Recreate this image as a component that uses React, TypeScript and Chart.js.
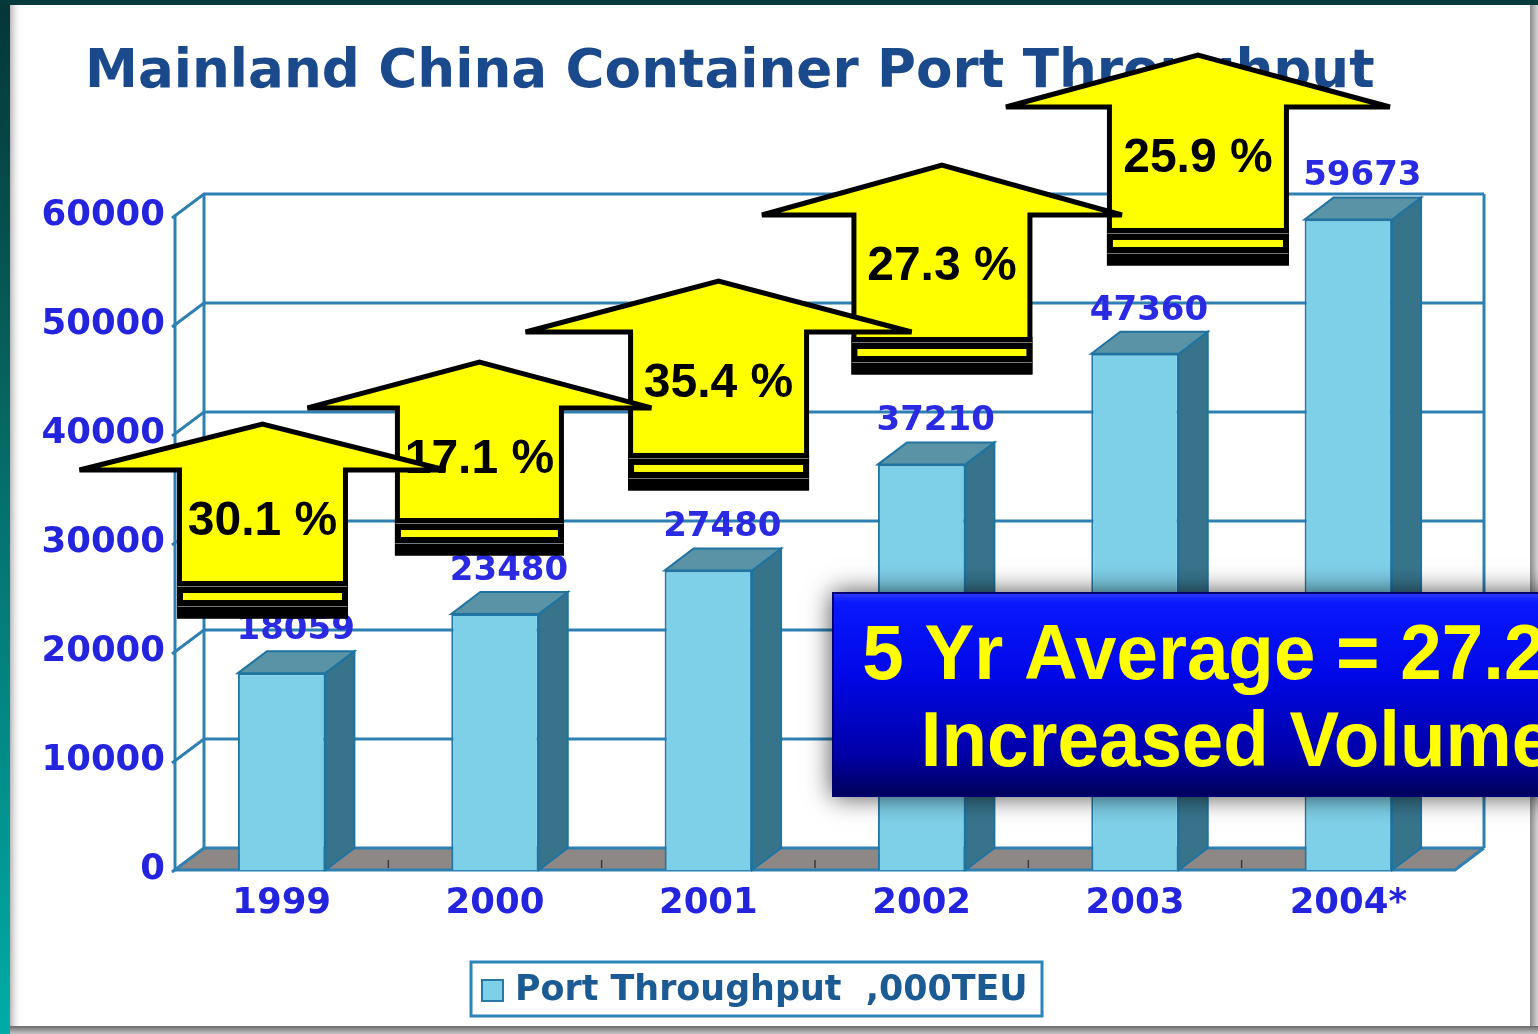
import React, { useEffect, useRef } from 'react';
import { Chart, registerables } from 'chart.js';

Chart.register(...registerables);

// ---------------- data ----------------
const categories = ['1999', '2000', '2001', '2002', '2003', '2004*'];
const throughput = [18059, 23480, 27480, 37210, 47360, 59673];
const growthLabels = ['30.1 %', '17.1 %', '35.4 %', '27.3 %', '25.9 %'];
const yAxisMin = 0;
const yAxisMax = 60000;
const yAxisStep = 10000;
const seriesLabel = 'Port Throughput  ,000TEU';
const chartTitle = 'Mainland China Container Port Throughput';
const calloutLines = ['5 Yr Average = 27.2%', 'Increased Volume'];

// ------------- annotation layout (category index / axis value units) -------------
const arrowCenterIdx = [-0.09, 0.927, 2.048, 3.095, 4.295];
const arrowTipVal = [40900, 46600, 54040, 64680, 74770];
const arrowBaseVal = [36700, 42390, 49360, 60090, 70000];
const arrowBottomVal = [23300, 29080, 35050, 45690, 55690];
const arrowHeadHalf = [183, 172, 193, 180, 192];
const arrowShaftHalf = [83, 82, 88, 88, 88.5];

// ---------------- styles ----------------
const W = 1538;
const H = 1034;
const DX = 29;
const DY = -22;
const GRID = '#2f80b2';
const AXIS_BLUE = '#2424de';
const TICK_FONT = { family: '"DejaVu Sans", Verdana, sans-serif', size: 35.5, weight: 'bold' as const };

function fitFont(ctx: CanvasRenderingContext2D, text: string, weight: string, family: string, target: number, base: number) {
  ctx.font = `${weight} ${base}px ${family}`;
  const w = ctx.measureText(text).width;
  const size = (base * target) / w;
  ctx.font = `${weight} ${size}px ${family}`;
}

const scenePlugin = {
  id: 'scene',
  beforeDraw(chart: any) {
    const ctx: CanvasRenderingContext2D = chart.ctx;
    ctx.save();
    ctx.fillStyle = '#a0a0a0';
    ctx.fillRect(0, 0, W, H);
    // left teal strip
    let g = ctx.createLinearGradient(0, 0, 0, H);
    g.addColorStop(0, '#043636');
    g.addColorStop(0.35, '#06605d');
    g.addColorStop(1, '#00aca8');
    ctx.fillStyle = g;
    ctx.fillRect(0, 0, 10, H);
    // top dark band
    ctx.fillStyle = '#043a3a';
    ctx.fillRect(0, 0, W, 5);
    // bottom shadow
    g = ctx.createLinearGradient(0, 1026, 0, H);
    g.addColorStop(0, '#6a6a6a');
    g.addColorStop(1, '#c6c6c6');
    ctx.fillStyle = g;
    ctx.fillRect(10, 1026, W - 10, H - 1026);
    // right shadow
    g = ctx.createLinearGradient(1530, 0, W, 0);
    g.addColorStop(0, '#8c8c8c');
    g.addColorStop(1, '#d6d6d6');
    ctx.fillStyle = g;
    ctx.fillRect(1530, 5, 8, 1021);
    // panel
    ctx.fillStyle = '#ffffff';
    ctx.fillRect(10, 5, 1520, 1021);
    g = ctx.createLinearGradient(10, 0, 22, 0);
    g.addColorStop(0, '#b8b8b8');
    g.addColorStop(1, 'rgba(255,255,255,0)');
    ctx.fillStyle = g;
    ctx.fillRect(10, 5, 12, 1021);

    // title
    ctx.fillStyle = '#1b4a8c';
    ctx.textAlign = 'left';
    ctx.textBaseline = 'alphabetic';
    fitFont(ctx, chartTitle, 'bold', '"DejaVu Sans", Verdana, sans-serif', 1290, 53);
    ctx.fillText(chartTitle, 85, 87);
    ctx.restore();
  },
  beforeDatasetsDraw(chart: any) {
    const ctx: CanvasRenderingContext2D = chart.ctx;
    const a = chart.chartArea;
    const ys = chart.scales.y;
    const xs = chart.scales.x;
    const L = a.left;
    const R = a.right;
    const T = ys.getPixelForValue(yAxisMax);
    const B = ys.getPixelForValue(yAxisMin);
    ctx.save();
    // floor
    ctx.beginPath();
    ctx.moveTo(L, B);
    ctx.lineTo(L + DX, B + DY);
    ctx.lineTo(R + DX, B + DY);
    ctx.lineTo(R, B);
    ctx.closePath();
    ctx.fillStyle = '#8d8785';
    ctx.fill();
    // floor tick marks
    ctx.strokeStyle = '#3a3a3a';
    ctx.lineWidth = 1.5;
    for (let i = 1; i < categories.length; i++) {
      const bx = xs.getPixelForValue(i - 0.5);
      ctx.beginPath();
      ctx.moveTo(bx, B - 10);
      ctx.lineTo(bx, B - 2);
      ctx.stroke();
    }
    // gridlines (left wall diagonal + back wall)
    ctx.strokeStyle = GRID;
    ctx.lineWidth = 3;
    for (let v = yAxisMin; v <= yAxisMax; v += yAxisStep) {
      const yp = ys.getPixelForValue(v);
      ctx.beginPath();
      ctx.moveTo(L - 3, yp + 2);
      ctx.lineTo(L + DX, yp + DY);
      ctx.lineTo(R + DX, yp + DY);
      ctx.stroke();
    }
    // wall verticals
    ctx.beginPath();
    ctx.moveTo(L, T);
    ctx.lineTo(L, B);
    ctx.moveTo(L + DX, T + DY);
    ctx.lineTo(L + DX, B + DY);
    ctx.moveTo(R + DX, T + DY);
    ctx.lineTo(R + DX, B + DY);
    ctx.stroke();
    // floor edges
    ctx.beginPath();
    ctx.moveTo(L, B);
    ctx.lineTo(R, B);
    ctx.lineTo(R + DX, B + DY);
    ctx.stroke();
    ctx.restore();
  },
  afterDatasetsDraw(chart: any) {
    const ctx: CanvasRenderingContext2D = chart.ctx;
    const meta = chart.getDatasetMeta(0);
    ctx.save();
    meta.data.forEach((el: any) => {
      const { x, y, base, width } = el.getProps(['x', 'y', 'base', 'width'], true);
      const l = x - width / 2;
      const r = x + width / 2;
      ctx.lineWidth = 2;
      ctx.strokeStyle = '#1f73a0';
      ctx.beginPath();
      ctx.moveTo(r, y);
      ctx.lineTo(r + DX, y + DY);
      ctx.lineTo(r + DX, base + DY);
      ctx.lineTo(r, base);
      ctx.closePath();
      ctx.fillStyle = '#37748c';
      ctx.fill();
      ctx.stroke();
      ctx.beginPath();
      ctx.moveTo(l, y);
      ctx.lineTo(l + DX, y + DY);
      ctx.lineTo(r + DX, y + DY);
      ctx.lineTo(r, y);
      ctx.closePath();
      ctx.fillStyle = '#5b93a6';
      ctx.fill();
      ctx.stroke();
    });
    // value labels
    ctx.fillStyle = '#2a2ae2';
    ctx.font = 'bold 34px "DejaVu Sans", Verdana, sans-serif';
    ctx.textAlign = 'center';
    ctx.textBaseline = 'middle';
    meta.data.forEach((el: any, i: number) => {
      const { x, y } = el.getProps(['x', 'y'], true);
      ctx.fillText(String(throughput[i]), x + 14, y - 43);
    });
    ctx.restore();
  },
  afterDraw(chart: any) {
    const ctx: CanvasRenderingContext2D = chart.ctx;
    const xs = chart.scales.x;
    const ys = chart.scales.y;
    ctx.save();

    // legend
    ctx.strokeStyle = '#2a85b8';
    ctx.lineWidth = 3;
    ctx.fillStyle = '#ffffff';
    ctx.fillRect(471, 962, 571, 54);
    ctx.strokeRect(471, 962, 571, 54);
    ctx.fillStyle = '#7ecfe8';
    ctx.fillRect(482, 980, 21, 21);
    ctx.lineWidth = 2;
    ctx.strokeStyle = '#2a78a8';
    ctx.strokeRect(482, 980, 21, 21);
    ctx.fillStyle = '#1b5a92';
    ctx.textAlign = 'left';
    ctx.textBaseline = 'middle';
    fitFont(ctx, seriesLabel, 'bold', '"DejaVu Sans", Verdana, sans-serif', 513, 34);
    ctx.fillText(seriesLabel, 515, 991);

    // arrows, drawn last-to-first so earlier ones sit on top
    for (let k = growthLabels.length - 1; k >= 0; k--) {
      const cx = xs.getPixelForValue(arrowCenterIdx[k]);
      const tip = ys.getPixelForValue(arrowTipVal[k]);
      const baseY = ys.getPixelForValue(arrowBaseVal[k]);
      const bot = ys.getPixelForValue(arrowBottomVal[k]);
      const hw = arrowHeadHalf[k];
      const sw = arrowShaftHalf[k];
      ctx.beginPath();
      ctx.moveTo(cx - hw, baseY);
      ctx.lineTo(cx, tip);
      ctx.lineTo(cx + hw, baseY);
      ctx.lineTo(cx + sw, baseY);
      ctx.lineTo(cx + sw, bot);
      ctx.lineTo(cx - sw, bot);
      ctx.lineTo(cx - sw, baseY);
      ctx.closePath();
      ctx.fillStyle = '#ffff00';
      ctx.fill();
      ctx.lineWidth = 5;
      ctx.lineJoin = 'miter';
      ctx.miterLimit = 4;
      ctx.strokeStyle = '#000000';
      ctx.stroke();
      // stripes at bottom
      ctx.fillStyle = '#000000';
      ctx.fillRect(cx - sw - 2.5, bot - 35, 2 * sw + 5, 37.5);
      ctx.fillStyle = '#ffff00';
      ctx.fillRect(cx - sw + 3.5, bot - 23, 2 * sw - 7, 7);
      ctx.strokeStyle = '#7a7a7a';
      ctx.lineWidth = 1;
      [bot - 30, bot - 10].forEach((yy) => {
        ctx.beginPath();
        ctx.moveTo(cx - sw - 2, yy + 0.5);
        ctx.lineTo(cx + sw + 2, yy + 0.5);
        ctx.stroke();
      });
      // label
      ctx.fillStyle = '#000000';
      ctx.font = 'bold 48px "Liberation Sans", Arial, sans-serif';
      ctx.textAlign = 'center';
      ctx.textBaseline = 'alphabetic';
      ctx.fillText(growthLabels[k], cx, baseY + 65);
    }

    // callout box
    const bx = 832;
    const by = 592;
    const bw = 820;
    const bh = 205;
    ctx.save();
    ctx.shadowColor = 'rgba(0,0,0,0.7)';
    ctx.shadowBlur = 24;
    const g = ctx.createLinearGradient(0, by, 0, by + bh);
    g.addColorStop(0, '#3040ff');
    g.addColorStop(0.05, '#0a18ff');
    g.addColorStop(0.4, '#0008e6');
    g.addColorStop(0.8, '#0000a6');
    g.addColorStop(1, '#000058');
    ctx.fillStyle = g;
    ctx.fillRect(bx, by, bw, bh);
    ctx.restore();
    ctx.strokeStyle = '#000070';
    ctx.lineWidth = 2;
    ctx.strokeRect(bx + 1, by + 1, bw - 2, bh - 2);
    ctx.fillStyle = '#ffff00';
    ctx.font = 'bold 77px "Liberation Sans", Arial, sans-serif';
    ctx.textAlign = 'center';
    ctx.textBaseline = 'alphabetic';
    const ccx = 1237;
    [679, 766].forEach((bl, i) => {
      ctx.save();
      ctx.translate(ccx, bl);
      ctx.scale(0.968, 1);
      ctx.fillText(calloutLines[i], 0, 0);
      ctx.restore();
    });

    ctx.restore();
  },
};

export default function App() {
  const ref = useRef<HTMLCanvasElement>(null);
  useEffect(() => {
    const canvas = ref.current;
    if (!canvas) return;
    const chart = new Chart(canvas, {
      type: 'bar',
      data: {
        labels: categories,
        datasets: [
          {
            label: seriesLabel,
            data: throughput,
            backgroundColor: '#7ed0e8',
            borderColor: '#2178a6',
            borderWidth: 2,
            barPercentage: 0.41,
            categoryPercentage: 1,
          },
        ],
      },
      options: {
        responsive: false,
        animation: false,
        devicePixelRatio: 1,
        layout: { padding: { top: 216, right: 83, bottom: 104, left: 0 } },
        plugins: {
          legend: { display: false },
          tooltip: { enabled: false },
          title: { display: false },
        },
        scales: {
          x: {
            grid: { display: false, drawTicks: false },
            border: { display: false },
            ticks: { color: AXIS_BLUE, font: TICK_FONT, padding: 12, maxRotation: 0, autoSkip: false },
            afterFit: (s: any) => {
              s.height = 60;
            },
          },
          y: {
            min: yAxisMin,
            max: yAxisMax,
            grid: { display: false, drawTicks: false },
            border: { display: false },
            ticks: {
              stepSize: yAxisStep,
              color: AXIS_BLUE,
              font: TICK_FONT,
              padding: 10,
              callback: (v: any) => String(v),
            },
            afterFit: (s: any) => {
              s.width = 175;
            },
          },
        },
      },
      plugins: [scenePlugin],
    });
    return () => chart.destroy();
  }, []);
  return (
    <div style={{ position: 'fixed', left: 0, top: 0, width: W, height: H, overflow: 'hidden', background: '#fff' }}>
      <canvas ref={ref} width={W} height={H} style={{ display: 'block', width: W, height: H }} />
    </div>
  );
}
